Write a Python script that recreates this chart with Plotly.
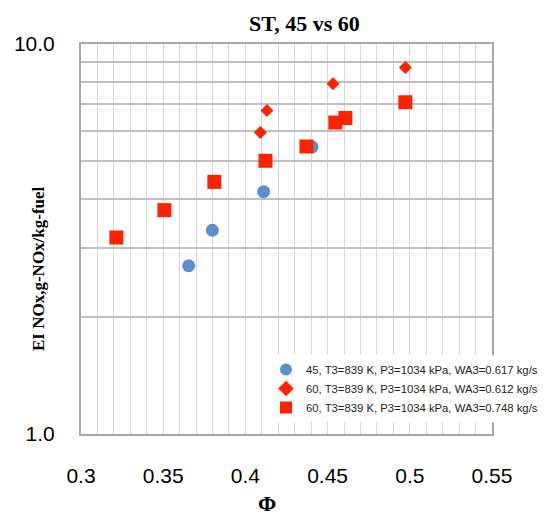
import plotly.graph_objects as go

# Data
phi_45 = [0.3655, 0.3799, 0.4111, 0.4405]
ei_45 = [2.70, 3.33, 4.18, 5.45]

phi_60a = [0.4091, 0.4131, 0.4533, 0.4973]
ei_60a = [5.93, 6.75, 7.91, 8.71]

phi_60b = [0.3215, 0.3507, 0.3811, 0.4122, 0.4371, 0.4547, 0.4608, 0.4973]
ei_60b = [3.19, 3.75, 4.43, 5.02, 5.46, 6.29, 6.46, 7.09]

names = [
    "45, T3=839 K, P3=1034 kPa, WA3=0.617 kg/s",
    "60, T3=839 K, P3=1034 kPa, WA3=0.612 kg/s",
    "60, T3=839 K, P3=1034 kPa, WA3=0.748 kg/s",
]

x_ticks = [0.3, 0.35, 0.4, 0.45, 0.5, 0.55]
x_ticktext = ["0.3", "0.35", "0.4", "0.45", "0.5", "0.55"]
y_grid = [1, 2, 3, 4, 5, 6, 7, 8, 9, 10]
y_ticktext = ["1.0", "", "", "", "", "", "", "", "", "10.0"]

title = "ST, 45 vs 60"
x_title = "Φ"
y_title = "EI NOx,g-NOx/kg-fuel"

BLUE = "#5B8FCB"
RED = "#FF2200"

fig = go.Figure()
fig.add_trace(go.Scatter(x=phi_45, y=ei_45, mode="markers", name=names[0],
                         marker=dict(symbol="circle", size=13, color=BLUE)))
fig.add_trace(go.Scatter(x=phi_60a, y=ei_60a, mode="markers", name=names[1],
                         marker=dict(symbol="diamond", size=10, color=RED)))
fig.add_trace(go.Scatter(x=phi_60b, y=ei_60b, mode="markers", name=names[2],
                         marker=dict(symbol="square", size=14, color=RED)))

tick_font = dict(family="Liberation Sans, Arial, sans-serif", size=21, color="#000000")

# page body has an 8px margin, so the figure is drawn 8px smaller and offset
fig.update_layout(
    width=543, height=508,
    margin=dict(l=73, r=59, t=36, b=82, autoexpand=False),
    paper_bgcolor="white", plot_bgcolor="white",
    showlegend=True,
    legend=dict(
        x=(266 - 81) / 411, y=(434 - 355) / 390, xanchor="left", yanchor="top",
        bgcolor="white", borderwidth=0,
        font=dict(family="Liberation Sans, Arial, sans-serif", size=11.3, color="#222222"),
        itemwidth=30, tracegroupgap=0, itemsizing="constant",
    ),
    xaxis=dict(
        range=[0.3, 0.55], tickvals=x_ticks, ticktext=x_ticktext,
        showgrid=True, gridcolor="#D4D4D4", gridwidth=1,
        minor=dict(dtick=0.01, tick0=0.3, showgrid=True, gridcolor="#D4D4D4", gridwidth=1),
        showline=True, linecolor="#A8A8A8", linewidth=2, mirror=True,
        ticks="", tickfont=tick_font, ticklabelstandoff=22, zeroline=False,
        automargin=False,
    ),
    yaxis=dict(
        type="log", range=[0, 1], tickvals=y_grid, ticktext=y_ticktext,
        showgrid=True, gridcolor="#BFBFBF", gridwidth=1.5,
        showline=True, linecolor="#A8A8A8", linewidth=2, mirror=True,
        ticks="", tickfont=tick_font, ticklabelstandoff=20, zeroline=False,
        automargin=False,
    ),
    annotations=[
        dict(text=f"<b>{title}</b>", x=(304 - 81) / 411, y=(434 - 9) / 390,
             xref="paper", yref="paper", xanchor="center", yanchor="top",
             height=24, valign="middle", showarrow=False,
             font=dict(family="Liberation Serif, Times New Roman, serif", size=22, color="#000000")),
        dict(text=f"<b>{x_title}</b>", x=(267 - 81) / 411, y=(434 - 503) / 390,
             xref="paper", yref="paper", xanchor="center", yanchor="middle",
             showarrow=False,
             font=dict(family="Liberation Serif, Times New Roman, serif", size=22, color="#000000")),
        dict(text=f"<b>{y_title}</b>", x=(38 - 81) / 411, y=(434 - 269) / 390,
             xref="paper", yref="paper", xanchor="center", yanchor="middle",
             textangle=-90, showarrow=False,
             font=dict(family="Liberation Serif, Times New Roman, serif", size=17, color="#000000")),
    ],
)

fig.write_html("out.html")
